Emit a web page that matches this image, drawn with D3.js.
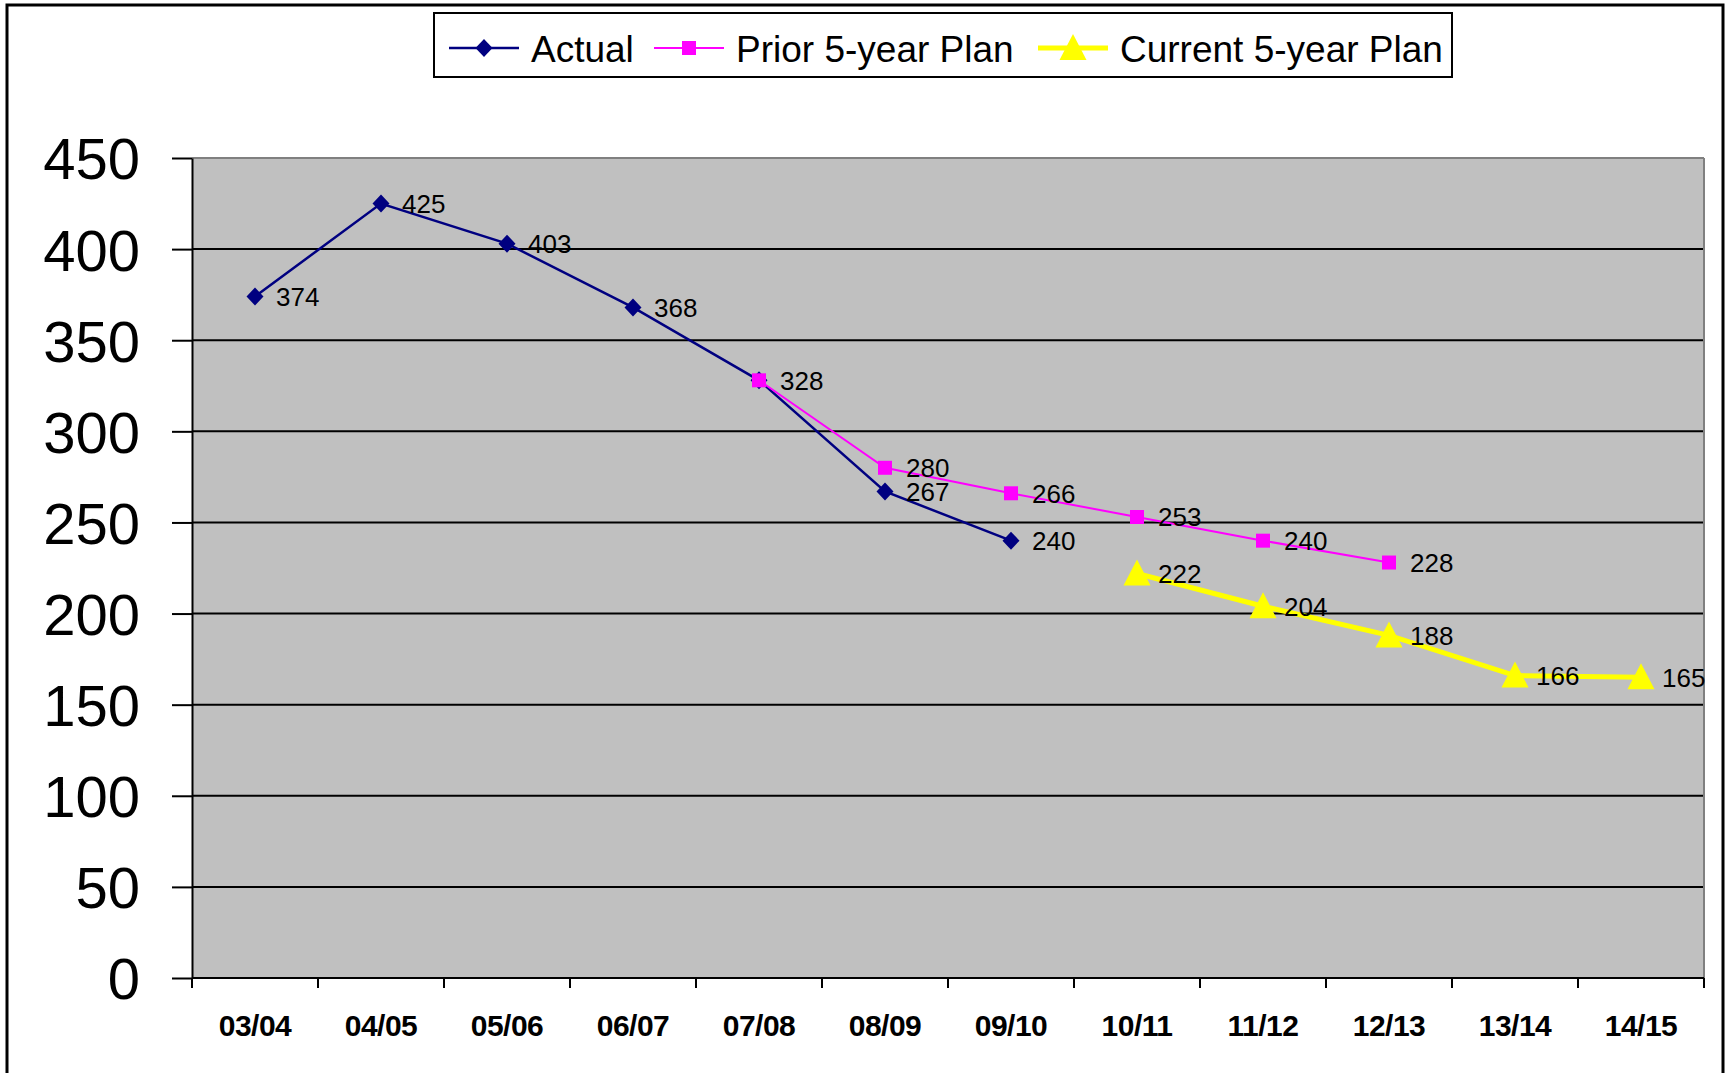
<!DOCTYPE html>
<html>
<head>
<meta charset="utf-8">
<script src="https://cdn.jsdelivr.net/npm/d3@7"></script>
<style>
  html, body { margin: 0; padding: 0; background: #fff; }
  svg { display: block; }
  text { font-family: "Liberation Sans", Arial, sans-serif; fill: #000; }
</style>
</head>
<body>
<svg id="chart" width="1731" height="1073"></svg>
<script>
// ---- data ----
const categories = ["03/04","04/05","05/06","06/07","07/08","08/09","09/10","10/11","11/12","12/13","13/14","14/15"];
const actualCats = ["03/04","04/05","05/06","06/07","07/08","08/09","09/10"];
const actualValues = [374, 425, 403, 368, 328, 267, 240];
const priorCats = ["07/08","08/09","09/10","10/11","11/12","12/13"];
const priorValues = [328, 280, 266, 253, 240, 228];
const currentCats = ["10/11","11/12","12/13","13/14","14/15"];
const currentValues = [222, 204, 188, 166, 165];
const yTicks = [0, 50, 100, 150, 200, 250, 300, 350, 400, 450];
const seriesNames = ["Actual", "Prior 5-year Plan", "Current 5-year Plan"];

// ---- layout ----
const svg = d3.select("#chart");
const plot = { left: 192, right: 1704, top: 158, bottom: 978 };

const x = d3.scaleBand().domain(categories).range([plot.left, plot.right]).padding(0);
const y = d3.scaleLinear().domain([0, 450]).range([plot.bottom, plot.top]);
const cx = c => x(c) + x.bandwidth() / 2;

// outer border
svg.append("rect").attr("x", 7).attr("y", 5).attr("width", 1716).attr("height", 1100)
  .attr("fill", "none").attr("stroke", "#000").attr("stroke-width", 3);

// plot background
svg.append("rect").attr("x", plot.left).attr("y", plot.top)
  .attr("width", plot.right - plot.left).attr("height", plot.bottom - plot.top)
  .attr("fill", "#C0C0C0");

// gridlines
svg.append("g").selectAll("line").data(yTicks.filter(v => v > 0 && v < 450)).join("line")
  .attr("x1", plot.left).attr("x2", plot.right)
  .attr("y1", d => y(d)).attr("y2", d => y(d))
  .attr("stroke", "#000").attr("stroke-width", 2);

// top & right border (gray)
svg.append("line").attr("x1", plot.left).attr("x2", plot.right).attr("y1", y(450)).attr("y2", y(450))
  .attr("stroke", "#808080").attr("stroke-width", 2);
svg.append("line").attr("x1", plot.right).attr("x2", plot.right).attr("y1", plot.top).attr("y2", plot.bottom)
  .attr("stroke", "#808080").attr("stroke-width", 2);

// y axis
const yAxis = d3.axisLeft(y).tickValues(yTicks).tickSize(20).tickPadding(32).tickSizeOuter(0);
const gy = svg.append("g").attr("transform", `translate(${plot.left},0)`).call(yAxis);
gy.select(".domain").attr("stroke", "#000").attr("stroke-width", 2);
gy.selectAll(".tick line").attr("stroke", "#000").attr("stroke-width", 2);
gy.selectAll(".tick text").attr("font-size", 58).attr("font-family", '"Liberation Sans", Arial, sans-serif')
  .attr("fill", "#000").attr("dy", "0.36em");

// x axis
svg.append("line").attr("x1", plot.left).attr("x2", plot.right).attr("y1", plot.bottom).attr("y2", plot.bottom)
  .attr("stroke", "#000").attr("stroke-width", 2);
const boundaries = categories.map(c => x(c)).concat([plot.right]);
svg.append("g").selectAll("line").data(boundaries).join("line")
  .attr("x1", d => d).attr("x2", d => d).attr("y1", plot.bottom).attr("y2", plot.bottom + 10)
  .attr("stroke", "#000").attr("stroke-width", 2);
svg.append("g").selectAll("text").data(categories).join("text")
  .attr("x", d => cx(d)).attr("y", 1036).attr("text-anchor", "middle")
  .attr("font-size", 30).attr("font-weight", "bold").attr("letter-spacing", "-0.5")
  .text(d => d);

// series
const line = d3.line().x(d => cx(d.c)).y(d => y(d.v));
function series(cats, vals) { return cats.map((c, i) => ({ c, v: vals[i] })); }
const actual = series(actualCats, actualValues);
const prior = series(priorCats, priorValues);
const current = series(currentCats, currentValues);

const diamond = d3.symbol().type(d3.symbolDiamond2 || d3.symbolDiamond).size(220);
const diamondPath = "M0,-9L8.5,0L0,9L-8.5,0Z";
const squarePath = "M-7,-7H7V7H-7Z";
const triPath = "M0,-14L13.5,12H-13.5Z";

// Actual
svg.append("path").datum(actual).attr("d", line).attr("fill", "none")
  .attr("stroke", "#000080").attr("stroke-width", 2.5);
// Prior
svg.append("path").datum(prior).attr("d", line).attr("fill", "none")
  .attr("stroke", "#FF00FF").attr("stroke-width", 2);
// Current
svg.append("path").datum(current).attr("d", line).attr("fill", "none")
  .attr("stroke", "#FFFF00").attr("stroke-width", 5);

svg.append("g").selectAll("path").data(actual).join("path")
  .attr("transform", d => `translate(${cx(d.c)},${y(d.v)})`).attr("d", diamondPath).attr("fill", "#000080");
svg.append("g").selectAll("path").data(prior).join("path")
  .attr("transform", d => `translate(${cx(d.c)},${y(d.v)})`).attr("d", squarePath).attr("fill", "#FF00FF");
svg.append("g").selectAll("path").data(current).join("path")
  .attr("transform", d => `translate(${cx(d.c)},${y(d.v)})`).attr("d", triPath).attr("fill", "#FFFF00");

// data labels
const allPts = actual.concat(prior.slice(1), current);
svg.append("g").selectAll("text").data(allPts).join("text")
  .attr("x", d => cx(d.c) + 21).attr("y", d => y(d.v)).attr("dy", "0.36em")
  .attr("font-size", 26).text(d => d.v);

// legend
const lg = svg.append("g");
lg.append("rect").attr("x", 434).attr("y", 13).attr("width", 1018).attr("height", 64)
  .attr("fill", "#fff").attr("stroke", "#000").attr("stroke-width", 2);
const legendItems = [
  { name: seriesNames[0], x0: 449, color: "#000080", w: 2.5, mark: diamondPath },
  { name: seriesNames[1], x0: 654, color: "#FF00FF", w: 2, mark: squarePath },
  { name: seriesNames[2], x0: 1038, color: "#FFFF00", w: 5, mark: triPath }
];
const ly = 48;
legendItems.forEach(it => {
  lg.append("line").attr("x1", it.x0).attr("x2", it.x0 + 70).attr("y1", ly).attr("y2", ly)
    .attr("stroke", it.color).attr("stroke-width", it.w);
  lg.append("path").attr("transform", `translate(${it.x0 + 35},${ly})`).attr("d", it.mark).attr("fill", it.color);
  lg.append("text").attr("x", it.x0 + 82).attr("y", 62).attr("font-size", 37).text(it.name);
});
</script>
</body>
</html>
